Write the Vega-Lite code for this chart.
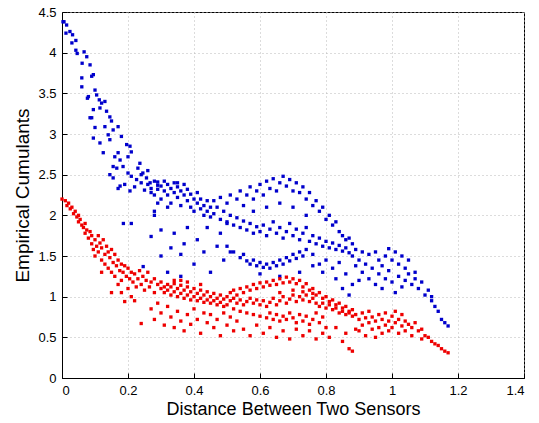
{
"$schema": "https://vega.github.io/schema/vega-lite/v6.json",
"width": 462, "height": 366,
"autosize": {"type": "none"},
"padding": {"left": 62, "top": 12, "right": 15, "bottom": 45},
"background": "white",
"datasets": {
"pts": [
{"x":0.006,"y":4.38,"g":"b"},{"x":0.014,"y":4.34,"g":"b"},{"x":0.012,"y":4.24,"g":"b"},{"x":0.032,"y":4.22,"g":"b"},{"x":0.03,"y":4.12,"g":"b"},{"x":0.042,"y":4.15,"g":"b"},{"x":0.042,"y":4.03,"g":"b"},{"x":0.046,"y":3.99,"g":"b"},{"x":0.067,"y":4.01,"g":"b"},{"x":0.061,"y":3.87,"g":"b"},{"x":0.075,"y":3.95,"g":"b"},{"x":0.085,"y":3.85,"g":"b"},{"x":0.06,"y":3.69,"g":"b"},{"x":0.06,"y":3.58,"g":"b"},{"x":0.09,"y":3.71,"g":"b"},{"x":0.095,"y":3.73,"g":"b"},{"x":0.1,"y":3.54,"g":"b"},{"x":0.105,"y":3.48,"g":"b"},{"x":0.077,"y":3.44,"g":"b"},{"x":0.113,"y":3.42,"g":"b"},{"x":0.12,"y":3.38,"g":"b"},{"x":0.13,"y":3.4,"g":"b"},{"x":0.115,"y":3.32,"g":"b"},{"x":0.095,"y":3.3,"g":"b"},{"x":0.135,"y":3.28,"g":"b"},{"x":0.085,"y":3.2,"g":"b"},{"x":0.145,"y":3.21,"g":"b"},{"x":0.15,"y":3.16,"g":"b"},{"x":0.1,"y":3.08,"g":"b"},{"x":0.13,"y":3.09,"g":"b"},{"x":0.155,"y":3.05,"g":"b"},{"x":0.17,"y":3.09,"g":"b"},{"x":0.14,"y":2.99,"g":"b"},{"x":0.18,"y":2.97,"g":"b"},{"x":0.095,"y":2.95,"g":"b"},{"x":0.145,"y":2.93,"g":"b"},{"x":0.115,"y":2.89,"g":"b"},{"x":0.125,"y":2.77,"g":"b"},{"x":0.16,"y":2.72,"g":"b"},{"x":0.17,"y":2.77,"g":"b"},{"x":0.196,"y":2.87,"g":"b"},{"x":0.206,"y":2.85,"g":"b"},{"x":0.176,"y":2.68,"g":"b"},{"x":0.155,"y":2.6,"g":"b"},{"x":0.166,"y":2.58,"g":"b"},{"x":0.2,"y":2.72,"g":"b"},{"x":0.21,"y":2.78,"g":"b"},{"x":0.236,"y":2.64,"g":"b"},{"x":0.23,"y":2.58,"g":"b"},{"x":0.185,"y":2.6,"g":"b"},{"x":0.145,"y":2.5,"g":"b"},{"x":0.155,"y":2.46,"g":"b"},{"x":0.2,"y":2.52,"g":"b"},{"x":0.21,"y":2.48,"g":"b"},{"x":0.245,"y":2.52,"g":"b"},{"x":0.226,"y":2.44,"g":"b"},{"x":0.24,"y":2.4,"g":"b"},{"x":0.256,"y":2.46,"g":"b"},{"x":0.267,"y":2.4,"g":"b"},{"x":0.28,"y":2.42,"g":"b"},{"x":0.176,"y":2.36,"g":"b"},{"x":0.206,"y":2.3,"g":"b"},{"x":0.29,"y":2.37,"g":"b"},{"x":0.003,"y":4.38,"g":"b"},{"x":0.024,"y":4.26,"g":"b"},{"x":0.08,"y":3.46,"g":"b"},{"x":0.09,"y":3.2,"g":"b"},
{"x":0.17,"y":2.33,"g":"b"},{"x":0.19,"y":2.38,"g":"b"},{"x":0.22,"y":2.35,"g":"b"},{"x":0.25,"y":2.31,"g":"b"},{"x":0.27,"y":2.28,"g":"b"},{"x":0.29,"y":2.32,"g":"b"},{"x":0.24,"y":2.5,"g":"b"},{"x":0.26,"y":2.55,"g":"b"},
{"x":0.26,"y":2.38,"g":"b"},{"x":0.27,"y":2.33,"g":"b"},{"x":0.28,"y":2.25,"g":"b"},{"x":0.29,"y":2.41,"g":"b"},{"x":0.3,"y":2.36,"g":"b"},{"x":0.3,"y":2.2,"g":"b"},{"x":0.31,"y":2.3,"g":"b"},{"x":0.32,"y":2.38,"g":"b"},{"x":0.32,"y":2.25,"g":"b"},{"x":0.33,"y":2.33,"g":"b"},{"x":0.33,"y":2.15,"g":"b"},{"x":0.34,"y":2.4,"g":"b"},{"x":0.34,"y":2.28,"g":"b"},{"x":0.35,"y":2.22,"g":"b"},{"x":0.35,"y":2.35,"g":"b"},{"x":0.36,"y":2.3,"g":"b"},{"x":0.36,"y":2.12,"g":"b"},{"x":0.37,"y":2.38,"g":"b"},{"x":0.37,"y":2.25,"g":"b"},{"x":0.38,"y":2.18,"g":"b"},{"x":0.38,"y":2.32,"g":"b"},{"x":0.39,"y":2.1,"g":"b"},{"x":0.39,"y":2.26,"g":"b"},{"x":0.4,"y":2.2,"g":"b"},{"x":0.4,"y":2.05,"g":"b"},{"x":0.41,"y":2.15,"g":"b"},{"x":0.41,"y":2.28,"g":"b"},{"x":0.42,"y":2.08,"g":"b"},{"x":0.42,"y":2.2,"g":"b"},{"x":0.43,"y":2.12,"g":"b"},{"x":0.43,"y":2.0,"g":"b"},{"x":0.44,"y":2.18,"g":"b"},{"x":0.44,"y":2.05,"g":"b"},{"x":0.45,"y":2.1,"g":"b"},{"x":0.45,"y":1.98,"g":"b"},{"x":0.31,"y":2.42,"g":"b"},{"x":0.35,"y":2.4,"g":"b"},{"x":0.29,"y":2.15,"g":"b"},{"x":0.28,"y":2.05,"g":"b"},{"x":0.32,"y":2.1,"g":"b"},
{"x":0.186,"y":1.9,"g":"b"},{"x":0.21,"y":1.9,"g":"b"},{"x":0.27,"y":1.74,"g":"b"},{"x":0.28,"y":2.0,"g":"b"},{"x":0.246,"y":1.37,"g":"b"},{"x":0.3,"y":1.82,"g":"b"},{"x":0.3,"y":1.5,"g":"b"},{"x":0.33,"y":1.6,"g":"b"},{"x":0.34,"y":1.78,"g":"b"},{"x":0.36,"y":1.52,"g":"b"},{"x":0.37,"y":1.65,"g":"b"},{"x":0.38,"y":1.85,"g":"b"},{"x":0.4,"y":1.4,"g":"b"},{"x":0.41,"y":1.7,"g":"b"},{"x":0.43,"y":1.55,"g":"b"},{"x":0.44,"y":1.85,"g":"b"},{"x":0.45,"y":1.3,"g":"b"},{"x":0.47,"y":1.62,"g":"b"},{"x":0.48,"y":1.78,"g":"b"},{"x":0.49,"y":1.45,"g":"b"},{"x":0.32,"y":1.3,"g":"b"},{"x":0.36,"y":1.25,"g":"b"},{"x":0.5,"y":1.9,"g":"b"},{"x":0.51,"y":1.55,"g":"b"},
{"x":0.46,"y":2.02,"g":"b"},{"x":0.47,"y":2.1,"g":"b"},{"x":0.48,"y":1.95,"g":"b"},{"x":0.49,"y":2.05,"g":"b"},{"x":0.5,"y":1.92,"g":"b"},{"x":0.51,"y":2.0,"g":"b"},{"x":0.52,"y":1.88,"g":"b"},{"x":0.53,"y":1.97,"g":"b"},{"x":0.54,"y":1.85,"g":"b"},{"x":0.55,"y":1.93,"g":"b"},{"x":0.56,"y":1.82,"g":"b"},{"x":0.57,"y":1.9,"g":"b"},{"x":0.58,"y":1.78,"g":"b"},{"x":0.59,"y":1.86,"g":"b"},{"x":0.6,"y":1.8,"g":"b"},{"x":0.61,"y":1.88,"g":"b"},{"x":0.62,"y":1.75,"g":"b"},{"x":0.63,"y":1.83,"g":"b"},{"x":0.64,"y":1.92,"g":"b"},{"x":0.65,"y":1.78,"g":"b"},{"x":0.66,"y":1.85,"g":"b"},{"x":0.67,"y":1.72,"g":"b"},{"x":0.68,"y":1.8,"g":"b"},{"x":0.69,"y":1.9,"g":"b"},{"x":0.7,"y":1.75,"g":"b"},{"x":0.71,"y":1.83,"g":"b"},{"x":0.72,"y":1.7,"g":"b"},{"x":0.73,"y":1.78,"g":"b"},{"x":0.74,"y":1.85,"g":"b"},{"x":0.75,"y":1.68,"g":"b"},{"x":0.76,"y":1.75,"g":"b"},{"x":0.77,"y":1.65,"g":"b"},{"x":0.78,"y":1.72,"g":"b"},{"x":0.79,"y":1.62,"g":"b"},{"x":0.8,"y":1.68,"g":"b"},{"x":0.81,"y":1.6,"g":"b"},{"x":0.82,"y":1.66,"g":"b"},{"x":0.83,"y":1.58,"g":"b"},{"x":0.84,"y":1.63,"g":"b"},{"x":0.85,"y":1.56,"g":"b"},{"x":0.86,"y":1.6,"g":"b"},{"x":0.87,"y":1.54,"g":"b"},
{"x":0.46,"y":2.18,"g":"b"},{"x":0.48,"y":2.22,"g":"b"},{"x":0.5,"y":2.15,"g":"b"},{"x":0.51,"y":2.25,"g":"b"},{"x":0.53,"y":2.2,"g":"b"},{"x":0.54,"y":2.3,"g":"b"},{"x":0.55,"y":2.12,"g":"b"},{"x":0.56,"y":2.25,"g":"b"},{"x":0.57,"y":2.35,"g":"b"},{"x":0.58,"y":2.2,"g":"b"},{"x":0.59,"y":2.3,"g":"b"},{"x":0.6,"y":2.38,"g":"b"},{"x":0.61,"y":2.25,"g":"b"},{"x":0.62,"y":2.42,"g":"b"},{"x":0.63,"y":2.33,"g":"b"},{"x":0.64,"y":2.45,"g":"b"},{"x":0.65,"y":2.3,"g":"b"},{"x":0.66,"y":2.4,"g":"b"},{"x":0.67,"y":2.48,"g":"b"},{"x":0.68,"y":2.36,"g":"b"},{"x":0.69,"y":2.44,"g":"b"},{"x":0.7,"y":2.3,"g":"b"},{"x":0.71,"y":2.4,"g":"b"},{"x":0.72,"y":2.28,"g":"b"},{"x":0.73,"y":2.35,"g":"b"},{"x":0.74,"y":2.2,"g":"b"},{"x":0.75,"y":2.28,"g":"b"},{"x":0.76,"y":2.12,"g":"b"},{"x":0.77,"y":2.18,"g":"b"},{"x":0.78,"y":2.05,"g":"b"},{"x":0.79,"y":2.1,"g":"b"},{"x":0.8,"y":1.95,"g":"b"},{"x":0.81,"y":2.0,"g":"b"},{"x":0.82,"y":1.88,"g":"b"},{"x":0.83,"y":1.92,"g":"b"},{"x":0.84,"y":1.8,"g":"b"},{"x":0.85,"y":1.75,"g":"b"},{"x":0.86,"y":1.7,"g":"b"},{"x":0.87,"y":1.72,"g":"b"},{"x":0.88,"y":1.65,"g":"b"},{"x":0.66,"y":2.15,"g":"b"},{"x":0.7,"y":2.1,"g":"b"},{"x":0.62,"y":2.1,"g":"b"},{"x":0.58,"y":2.05,"g":"b"},{"x":0.74,"y":2.0,"g":"b"},
{"x":0.5,"y":1.62,"g":"b"},{"x":0.52,"y":1.55,"g":"b"},{"x":0.54,"y":1.48,"g":"b"},{"x":0.55,"y":1.52,"g":"b"},{"x":0.56,"y":1.44,"g":"b"},{"x":0.57,"y":1.4,"g":"b"},{"x":0.58,"y":1.45,"g":"b"},{"x":0.59,"y":1.38,"g":"b"},{"x":0.6,"y":1.42,"g":"b"},{"x":0.61,"y":1.36,"g":"b"},{"x":0.62,"y":1.4,"g":"b"},{"x":0.63,"y":1.35,"g":"b"},{"x":0.64,"y":1.42,"g":"b"},{"x":0.65,"y":1.38,"g":"b"},{"x":0.66,"y":1.45,"g":"b"},{"x":0.67,"y":1.4,"g":"b"},{"x":0.68,"y":1.48,"g":"b"},{"x":0.69,"y":1.44,"g":"b"},{"x":0.7,"y":1.52,"g":"b"},{"x":0.71,"y":1.47,"g":"b"},{"x":0.72,"y":1.55,"g":"b"},{"x":0.73,"y":1.5,"g":"b"},{"x":0.74,"y":1.58,"g":"b"},{"x":0.76,"y":1.52,"g":"b"},{"x":0.78,"y":1.4,"g":"b"},{"x":0.79,"y":1.3,"g":"b"},{"x":0.8,"y":1.45,"g":"b"},{"x":0.82,"y":1.35,"g":"b"},{"x":0.83,"y":1.22,"g":"b"},{"x":0.84,"y":1.42,"g":"b"},{"x":0.85,"y":1.1,"g":"b"},{"x":0.86,"y":1.28,"g":"b"},{"x":0.87,"y":1.02,"g":"b"},{"x":0.88,"y":1.15,"g":"b"},{"x":0.89,"y":1.38,"g":"b"},{"x":0.9,"y":1.2,"g":"b"},{"x":0.66,"y":1.25,"g":"b"},{"x":0.72,"y":1.3,"g":"b"},{"x":0.6,"y":1.28,"g":"b"},{"x":0.76,"y":1.38,"g":"b"},
{"x":0.88,"y":1.5,"g":"b"},{"x":0.89,"y":1.58,"g":"b"},{"x":0.9,"y":1.45,"g":"b"},{"x":0.91,"y":1.55,"g":"b"},{"x":0.91,"y":1.3,"g":"b"},{"x":0.92,"y":1.4,"g":"b"},{"x":0.93,"y":1.52,"g":"b"},{"x":0.93,"y":1.22,"g":"b"},{"x":0.94,"y":1.35,"g":"b"},{"x":0.95,"y":1.55,"g":"b"},{"x":0.95,"y":1.15,"g":"b"},{"x":0.96,"y":1.45,"g":"b"},{"x":0.96,"y":1.28,"g":"b"},{"x":0.97,"y":1.38,"g":"b"},{"x":0.97,"y":1.1,"g":"b"},{"x":0.98,"y":1.5,"g":"b"},{"x":0.98,"y":1.22,"g":"b"},{"x":0.99,"y":1.59,"g":"b"},{"x":0.99,"y":1.32,"g":"b"},{"x":1.0,"y":1.45,"g":"b"},{"x":1.0,"y":1.18,"g":"b"},{"x":1.01,"y":1.55,"g":"b"},{"x":1.01,"y":1.05,"g":"b"},{"x":1.02,"y":1.4,"g":"b"},{"x":1.02,"y":1.25,"g":"b"},{"x":1.03,"y":1.5,"g":"b"},{"x":1.03,"y":1.12,"g":"b"},{"x":1.04,"y":1.35,"g":"b"},{"x":1.04,"y":1.2,"g":"b"},{"x":1.05,"y":1.45,"g":"b"},{"x":1.05,"y":1.28,"g":"b"},{"x":1.06,"y":1.15,"g":"b"},{"x":1.07,"y":1.22,"g":"b"},{"x":1.08,"y":1.1,"g":"b"},{"x":1.09,"y":1.18,"g":"b"},{"x":1.1,"y":1.02,"g":"b"},{"x":1.11,"y":1.08,"g":"b"},{"x":1.12,"y":0.95,"g":"b"},{"x":1.13,"y":0.88,"g":"b"},{"x":1.14,"y":0.82,"g":"b"},{"x":1.15,"y":0.72,"g":"b"},{"x":1.16,"y":0.68,"g":"b"},{"x":1.17,"y":0.64,"g":"b"},{"x":1.12,"y":1.0,"g":"b"},{"x":1.07,"y":1.3,"g":"b"},
{"x":0.0,"y":2.2,"g":"r"},{"x":0.01,"y":2.18,"g":"r"},{"x":0.015,"y":2.12,"g":"r"},{"x":0.02,"y":2.15,"g":"r"},{"x":0.025,"y":2.08,"g":"r"},{"x":0.03,"y":2.1,"g":"r"},{"x":0.035,"y":2.02,"g":"r"},{"x":0.04,"y":2.05,"g":"r"},{"x":0.045,"y":1.98,"g":"r"},{"x":0.05,"y":2.0,"g":"r"},{"x":0.05,"y":1.92,"g":"r"},{"x":0.055,"y":1.95,"g":"r"},{"x":0.06,"y":1.88,"g":"r"},{"x":0.065,"y":1.85,"g":"r"},{"x":0.07,"y":1.9,"g":"r"},{"x":0.07,"y":1.78,"g":"r"},{"x":0.075,"y":1.82,"g":"r"},{"x":0.08,"y":1.72,"g":"r"},{"x":0.085,"y":1.8,"g":"r"},{"x":0.09,"y":1.65,"g":"r"},{"x":0.09,"y":1.75,"g":"r"},{"x":0.095,"y":1.58,"g":"r"},{"x":0.1,"y":1.7,"g":"r"},{"x":0.1,"y":1.5,"g":"r"},{"x":0.105,"y":1.62,"g":"r"},{"x":0.11,"y":1.75,"g":"r"},{"x":0.11,"y":1.55,"g":"r"},{"x":0.115,"y":1.66,"g":"r"},{"x":0.12,"y":1.45,"g":"r"},{"x":0.12,"y":1.6,"g":"r"},{"x":0.125,"y":1.7,"g":"r"},{"x":0.13,"y":1.52,"g":"r"},{"x":0.13,"y":1.4,"g":"r"},{"x":0.135,"y":1.62,"g":"r"},{"x":0.14,"y":1.55,"g":"r"},{"x":0.14,"y":1.35,"g":"r"},{"x":0.145,"y":1.48,"g":"r"},{"x":0.15,"y":1.58,"g":"r"},{"x":0.15,"y":1.3,"g":"r"},{"x":0.155,"y":1.42,"g":"r"},{"x":0.16,"y":1.52,"g":"r"},{"x":0.16,"y":1.25,"g":"r"},{"x":0.165,"y":1.38,"g":"r"},{"x":0.17,"y":1.45,"g":"r"},{"x":0.17,"y":1.15,"g":"r"},{"x":0.175,"y":1.32,"g":"r"},{"x":0.18,"y":1.4,"g":"r"},{"x":0.18,"y":1.2,"g":"r"},{"x":0.185,"y":1.3,"g":"r"},{"x":0.19,"y":1.38,"g":"r"},{"x":0.19,"y":0.94,"g":"r"},{"x":0.195,"y":1.25,"g":"r"},{"x":0.2,"y":1.35,"g":"r"},{"x":0.2,"y":1.1,"g":"r"},{"x":0.205,"y":1.22,"g":"r"},{"x":0.21,"y":1.3,"g":"r"},{"x":0.21,"y":1.0,"g":"r"},{"x":0.215,"y":1.18,"g":"r"},{"x":0.22,"y":1.28,"g":"r"},{"x":0.225,"y":1.12,"g":"r"},{"x":0.23,"y":1.22,"g":"r"},{"x":0.235,"y":1.32,"g":"r"},{"x":0.24,"y":1.15,"g":"r"},{"x":0.24,"y":0.67,"g":"r"},{"x":0.245,"y":1.25,"g":"r"},{"x":0.25,"y":1.08,"g":"r"},{"x":0.255,"y":1.2,"g":"r"},{"x":0.26,"y":1.3,"g":"r"},{"x":0.265,"y":1.12,"g":"r"},{"x":0.27,"y":1.18,"g":"r"},{"x":0.28,"y":1.05,"g":"r"},{"x":0.28,"y":1.22,"g":"r"},{"x":0.29,"y":1.15,"g":"r"},{"x":0.3,"y":1.1,"g":"r"},{"x":0.22,"y":0.95,"g":"r"},{"x":0.18,"y":1.05,"g":"r"},{"x":0.15,"y":1.05,"g":"r"},{"x":0.12,"y":1.3,"g":"r"},
{"x":0.3,"y":1.18,"g":"r"},{"x":0.31,"y":1.12,"g":"r"},{"x":0.31,"y":1.05,"g":"r"},{"x":0.32,"y":1.15,"g":"r"},{"x":0.32,"y":1.08,"g":"r"},{"x":0.33,"y":1.12,"g":"r"},{"x":0.33,"y":1.02,"g":"r"},{"x":0.34,"y":1.16,"g":"r"},{"x":0.34,"y":1.06,"g":"r"},{"x":0.35,"y":1.1,"g":"r"},{"x":0.35,"y":1.0,"g":"r"},{"x":0.36,"y":1.14,"g":"r"},{"x":0.36,"y":1.04,"g":"r"},{"x":0.37,"y":1.08,"g":"r"},{"x":0.37,"y":0.98,"g":"r"},{"x":0.38,"y":1.12,"g":"r"},{"x":0.38,"y":1.02,"g":"r"},{"x":0.39,"y":1.06,"g":"r"},{"x":0.39,"y":0.96,"g":"r"},{"x":0.4,"y":1.1,"g":"r"},{"x":0.4,"y":1.0,"g":"r"},{"x":0.41,"y":1.04,"g":"r"},{"x":0.41,"y":0.95,"g":"r"},{"x":0.42,"y":1.08,"g":"r"},{"x":0.42,"y":0.98,"g":"r"},{"x":0.43,"y":1.02,"g":"r"},{"x":0.43,"y":0.93,"g":"r"},{"x":0.44,"y":1.06,"g":"r"},{"x":0.44,"y":0.96,"g":"r"},{"x":0.45,"y":1.0,"g":"r"},{"x":0.45,"y":0.92,"g":"r"},{"x":0.46,"y":1.04,"g":"r"},{"x":0.46,"y":0.95,"g":"r"},{"x":0.47,"y":0.98,"g":"r"},{"x":0.47,"y":0.9,"g":"r"},{"x":0.48,"y":1.02,"g":"r"},{"x":0.48,"y":0.93,"g":"r"},{"x":0.49,"y":0.97,"g":"r"},{"x":0.49,"y":0.88,"g":"r"},{"x":0.5,"y":1.0,"g":"r"},{"x":0.5,"y":0.9,"g":"r"},{"x":0.34,"y":1.2,"g":"r"},{"x":0.38,"y":1.18,"g":"r"},{"x":0.42,"y":1.15,"g":"r"},{"x":0.36,"y":1.2,"g":"r"},
{"x":0.27,"y":0.85,"g":"r"},{"x":0.28,"y":0.72,"g":"r"},{"x":0.29,"y":0.92,"g":"r"},{"x":0.3,"y":0.8,"g":"r"},{"x":0.31,"y":0.65,"g":"r"},{"x":0.32,"y":0.88,"g":"r"},{"x":0.33,"y":0.75,"g":"r"},{"x":0.34,"y":0.62,"g":"r"},{"x":0.35,"y":0.82,"g":"r"},{"x":0.36,"y":0.7,"g":"r"},{"x":0.37,"y":0.58,"g":"r"},{"x":0.38,"y":0.78,"g":"r"},{"x":0.39,"y":0.66,"g":"r"},{"x":0.4,"y":0.85,"g":"r"},{"x":0.41,"y":0.72,"g":"r"},{"x":0.42,"y":0.55,"g":"r"},{"x":0.43,"y":0.8,"g":"r"},{"x":0.44,"y":0.68,"g":"r"},{"x":0.45,"y":0.78,"g":"r"},{"x":0.46,"y":0.62,"g":"r"},{"x":0.47,"y":0.72,"g":"r"},{"x":0.48,"y":0.52,"g":"r"},{"x":0.49,"y":0.8,"g":"r"},{"x":0.5,"y":0.65,"g":"r"},{"x":0.51,"y":0.75,"g":"r"},{"x":0.52,"y":0.58,"g":"r"},{"x":0.53,"y":0.7,"g":"r"},
{"x":0.51,"y":1.05,"g":"r"},{"x":0.52,"y":1.08,"g":"r"},{"x":0.53,"y":1.02,"g":"r"},{"x":0.54,"y":1.1,"g":"r"},{"x":0.55,"y":1.05,"g":"r"},{"x":0.56,"y":1.12,"g":"r"},{"x":0.57,"y":1.08,"g":"r"},{"x":0.58,"y":1.15,"g":"r"},{"x":0.59,"y":1.1,"g":"r"},{"x":0.6,"y":1.17,"g":"r"},{"x":0.61,"y":1.12,"g":"r"},{"x":0.62,"y":1.18,"g":"r"},{"x":0.63,"y":1.14,"g":"r"},{"x":0.64,"y":1.2,"g":"r"},{"x":0.65,"y":1.15,"g":"r"},{"x":0.66,"y":1.22,"g":"r"},{"x":0.67,"y":1.17,"g":"r"},{"x":0.68,"y":1.24,"g":"r"},{"x":0.69,"y":1.18,"g":"r"},{"x":0.7,"y":1.22,"g":"r"},{"x":0.71,"y":1.16,"g":"r"},{"x":0.72,"y":1.2,"g":"r"},{"x":0.73,"y":1.12,"g":"r"},{"x":0.74,"y":1.16,"g":"r"},{"x":0.75,"y":1.08,"g":"r"},{"x":0.76,"y":1.1,"g":"r"},{"x":0.77,"y":1.02,"g":"r"},{"x":0.78,"y":1.05,"g":"r"},{"x":0.79,"y":0.98,"g":"r"},{"x":0.8,"y":1.0,"g":"r"},{"x":0.81,"y":0.94,"g":"r"},{"x":0.82,"y":0.96,"g":"r"},{"x":0.83,"y":0.9,"g":"r"},{"x":0.84,"y":0.92,"g":"r"},{"x":0.85,"y":0.86,"g":"r"},{"x":0.86,"y":0.88,"g":"r"},{"x":0.87,"y":0.82,"g":"r"},{"x":0.88,"y":0.84,"g":"r"},
{"x":0.51,"y":0.95,"g":"r"},{"x":0.52,"y":0.98,"g":"r"},{"x":0.53,"y":0.92,"g":"r"},{"x":0.54,"y":0.96,"g":"r"},{"x":0.55,"y":0.9,"g":"r"},{"x":0.56,"y":0.94,"g":"r"},{"x":0.57,"y":0.98,"g":"r"},{"x":0.58,"y":0.92,"g":"r"},{"x":0.59,"y":0.96,"g":"r"},{"x":0.6,"y":0.9,"g":"r"},{"x":0.61,"y":0.95,"g":"r"},{"x":0.62,"y":0.88,"g":"r"},{"x":0.63,"y":0.93,"g":"r"},{"x":0.64,"y":0.98,"g":"r"},{"x":0.65,"y":0.9,"g":"r"},{"x":0.66,"y":0.95,"g":"r"},{"x":0.67,"y":1.0,"g":"r"},{"x":0.68,"y":0.92,"g":"r"},{"x":0.69,"y":0.97,"g":"r"},{"x":0.7,"y":1.02,"g":"r"},{"x":0.71,"y":0.94,"g":"r"},{"x":0.72,"y":1.0,"g":"r"},{"x":0.73,"y":0.96,"g":"r"},{"x":0.74,"y":1.02,"g":"r"},{"x":0.75,"y":0.94,"g":"r"},{"x":0.76,"y":0.98,"g":"r"},{"x":0.77,"y":0.92,"g":"r"},{"x":0.78,"y":0.88,"g":"r"},{"x":0.79,"y":0.92,"g":"r"},{"x":0.8,"y":0.86,"g":"r"},{"x":0.81,"y":0.9,"g":"r"},{"x":0.82,"y":0.84,"g":"r"},{"x":0.83,"y":0.86,"g":"r"},{"x":0.84,"y":0.8,"g":"r"},{"x":0.85,"y":0.82,"g":"r"},{"x":0.86,"y":0.78,"g":"r"},{"x":0.87,"y":0.8,"g":"r"},{"x":0.88,"y":0.76,"g":"r"},{"x":0.7,"y":1.08,"g":"r"},{"x":0.73,"y":1.06,"g":"r"},{"x":0.76,"y":1.04,"g":"r"},{"x":0.66,"y":1.05,"g":"r"},
{"x":0.52,"y":0.85,"g":"r"},{"x":0.54,"y":0.82,"g":"r"},{"x":0.56,"y":0.8,"g":"r"},{"x":0.58,"y":0.78,"g":"r"},{"x":0.6,"y":0.76,"g":"r"},{"x":0.62,"y":0.74,"g":"r"},{"x":0.63,"y":0.8,"g":"r"},{"x":0.64,"y":0.72,"g":"r"},{"x":0.65,"y":0.78,"g":"r"},{"x":0.66,"y":0.7,"g":"r"},{"x":0.67,"y":0.76,"g":"r"},{"x":0.68,"y":0.72,"g":"r"},{"x":0.69,"y":0.8,"g":"r"},{"x":0.7,"y":0.74,"g":"r"},{"x":0.71,"y":0.68,"g":"r"},{"x":0.72,"y":0.78,"g":"r"},{"x":0.73,"y":0.7,"g":"r"},{"x":0.74,"y":0.76,"g":"r"},{"x":0.75,"y":0.66,"g":"r"},{"x":0.76,"y":0.72,"g":"r"},{"x":0.77,"y":0.8,"g":"r"},{"x":0.78,"y":0.68,"g":"r"},{"x":0.79,"y":0.75,"g":"r"},{"x":0.8,"y":0.62,"g":"r"},
{"x":0.55,"y":0.6,"g":"r"},{"x":0.57,"y":0.52,"g":"r"},{"x":0.59,"y":0.65,"g":"r"},{"x":0.61,"y":0.55,"g":"r"},{"x":0.63,"y":0.62,"g":"r"},{"x":0.65,"y":0.5,"g":"r"},{"x":0.67,"y":0.58,"g":"r"},{"x":0.69,"y":0.48,"g":"r"},{"x":0.71,"y":0.6,"g":"r"},{"x":0.73,"y":0.52,"g":"r"},{"x":0.75,"y":0.58,"g":"r"},{"x":0.77,"y":0.48,"g":"r"},{"x":0.79,"y":0.55,"g":"r"},{"x":0.81,"y":0.5,"g":"r"},{"x":0.83,"y":0.62,"g":"r"},{"x":0.85,"y":0.45,"g":"r"},{"x":0.87,"y":0.36,"g":"r"},{"x":0.88,"y":0.33,"g":"r"},{"x":0.86,"y":0.55,"g":"r"},{"x":0.89,"y":0.6,"g":"r"},
{"x":0.89,"y":0.78,"g":"r"},{"x":0.9,"y":0.72,"g":"r"},{"x":0.9,"y":0.58,"g":"r"},{"x":0.91,"y":0.8,"g":"r"},{"x":0.91,"y":0.65,"g":"r"},{"x":0.92,"y":0.74,"g":"r"},{"x":0.92,"y":0.52,"g":"r"},{"x":0.93,"y":0.68,"g":"r"},{"x":0.93,"y":0.82,"g":"r"},{"x":0.94,"y":0.6,"g":"r"},{"x":0.94,"y":0.75,"g":"r"},{"x":0.95,"y":0.7,"g":"r"},{"x":0.95,"y":0.5,"g":"r"},{"x":0.96,"y":0.78,"g":"r"},{"x":0.96,"y":0.62,"g":"r"},{"x":0.97,"y":0.72,"g":"r"},{"x":0.97,"y":0.55,"g":"r"},{"x":0.98,"y":0.8,"g":"r"},{"x":0.98,"y":0.65,"g":"r"},{"x":0.99,"y":0.7,"g":"r"},{"x":0.99,"y":0.58,"g":"r"},{"x":1.0,"y":0.76,"g":"r"},{"x":1.0,"y":0.62,"g":"r"},{"x":1.01,"y":0.82,"g":"r"},{"x":1.01,"y":0.68,"g":"r"},{"x":1.02,"y":0.72,"g":"r"},{"x":1.02,"y":0.55,"g":"r"},{"x":1.03,"y":0.78,"g":"r"},{"x":1.03,"y":0.64,"g":"r"},{"x":1.04,"y":0.7,"g":"r"},{"x":1.04,"y":0.58,"g":"r"},{"x":1.05,"y":0.66,"g":"r"},{"x":1.06,"y":0.62,"g":"r"},{"x":1.07,"y":0.68,"g":"r"},{"x":1.08,"y":0.58,"g":"r"},{"x":1.09,"y":0.6,"g":"r"},{"x":1.1,"y":0.52,"g":"r"},{"x":1.11,"y":0.5,"g":"r"},{"x":1.12,"y":0.45,"g":"r"},{"x":1.13,"y":0.42,"g":"r"},{"x":1.14,"y":0.4,"g":"r"},{"x":1.15,"y":0.36,"g":"r"},{"x":1.16,"y":0.33,"g":"r"},{"x":1.17,"y":0.31,"g":"r"},{"x":1.06,"y":0.52,"g":"r"},{"x":1.09,"y":0.48,"g":"r"}
]
},
"data": {"name": "pts"},
"mark": {"type": "square", "size": 11, "opacity": 1, "filled": true},
"encoding": {
"x": {"field": "x", "type": "quantitative", "scale": {"domain": [0, 1.4], "nice": false, "zero": false}, "axis": {"title": "Distance Between Two Sensors", "values": [0, 0.2, 0.4, 0.6, 0.8, 1, 1.2, 1.4], "format": "~g", "titlePadding": 3, "titleFontSize": 18}},
"y": {"field": "y", "type": "quantitative", "scale": {"domain": [0, 4.5], "nice": false, "zero": false}, "axis": {"title": "Empirical Cumulants", "values": [0, 0.5, 1, 1.5, 2, 2.5, 3, 3.5, 4, 4.5], "format": "~g", "titlePadding": 5, "titleFontSize": 19}},
"color": {"field": "g", "type": "nominal", "scale": {"domain": ["b", "r"], "range": ["#0000cc", "#ee0000"]}, "legend": null}
},
"config": {
"view": {"stroke": "black", "strokeWidth": 1},
"axis": {"domainColor": "black", "tickColor": "black", "labelColor": "black", "titleColor": "black", "labelFont": "Liberation Sans", "titleFont": "Liberation Sans", "labelFontSize": 13, "titleFontWeight": "normal", "gridColor": "#b8b8b8", "gridDash": [1, 3], "gridOpacity": 1, "tickSize": -5, "labelPadding": 11}
}
}
